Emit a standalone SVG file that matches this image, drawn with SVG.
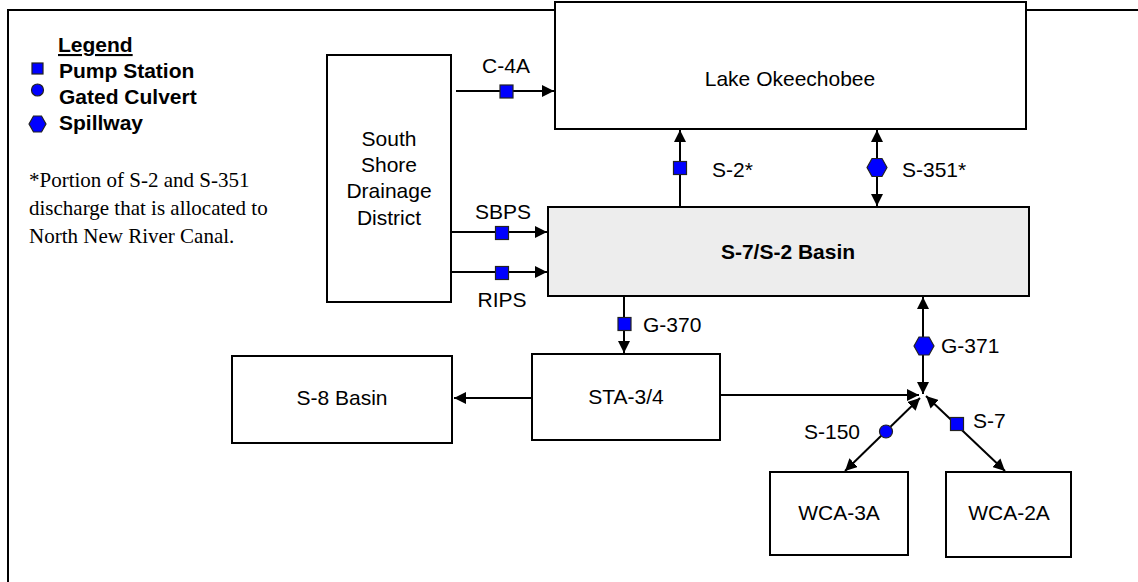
<svg xmlns="http://www.w3.org/2000/svg" width="1138" height="582" viewBox="0 0 1138 582">
<defs>
<marker id="ah" viewBox="0 0 12 12" refX="12" refY="6" markerWidth="12" markerHeight="12" markerUnits="userSpaceOnUse" orient="auto-start-reverse">
<path d="M0,0 L12,6 L0,12 z" fill="#000"/>
</marker>
<g id="pump"><rect x="-6.5" y="-6.5" width="13" height="13" fill="#0000ff" stroke="#222" stroke-width="1.2"/></g>
<g id="culv"><circle r="6.5" fill="#0000ff" stroke="#222" stroke-width="1.2"/></g>
<g id="spill"><polygon points="-10,0 -5,-9 5,-9 10,0 5,9 -5,9" fill="#0000ff" stroke="#222" stroke-width="1.2"/></g>
</defs>
<style>
.box{fill:#fff;stroke:#000;stroke-width:2}
.t{font-family:"Liberation Sans",Arial,sans-serif;font-size:21px;fill:#000}
.c{text-anchor:middle}
.b{font-weight:bold}
.ln{stroke:#000;stroke-width:2;fill:none}
.tm{font-family:"Liberation Serif","Times New Roman",serif;font-size:21px;fill:#000}
</style>
<rect width="1138" height="582" fill="#fff"/>
<path d="M8,582 V10 H1138" fill="none" stroke="#000" stroke-width="2"/>

<g id="legend">
<text class="t b" x="58" y="52" text-decoration="underline">Legend</text>
<rect x="32" y="63" width="11" height="11" fill="#0000ff" stroke="#222" stroke-width="1.2"/>
<text class="t b" x="59" y="78">Pump Station</text>
<circle cx="37.5" cy="90" r="6" fill="#0000ff" stroke="#222" stroke-width="1.2"/>
<text class="t b" x="59" y="104">Gated Culvert</text>
<polygon points="29,124 33.5,116 41.5,116 46,124 41.5,132 33.5,132" fill="#0000ff" stroke="#222" stroke-width="1.2"/>
<text class="t b" x="59" y="130">Spillway</text>
<text class="tm" x="29" y="187">*Portion of S-2 and S-351</text>
<text class="tm" x="29" y="215">discharge that is allocated to</text>
<text class="tm" x="29" y="243">North New River Canal.</text>
</g>

<g id="lake"><rect class="box" x="555" y="2" width="471" height="127"/><text class="t c" x="790" y="86">Lake Okeechobee</text></g>
<g id="ssdd"><rect class="box" x="327" y="55" width="124" height="247"/>
<text class="t c" x="389" y="146">South</text><text class="t c" x="389" y="172">Shore</text><text class="t c" x="389" y="198">Drainage</text><text class="t c" x="389" y="225">District</text></g>
<g id="basin"><rect x="548" y="207" width="481" height="89" fill="#ededed" stroke="#000" stroke-width="2"/><text class="t c b" x="788" y="259">S-7/S-2 Basin</text></g>
<g id="sta"><rect class="box" x="532" y="354" width="188" height="86"/><text class="t c" x="626" y="404">STA-3/4</text></g>
<g id="s8"><rect class="box" x="232" y="356" width="220" height="87"/><text class="t c" x="342" y="405">S-8 Basin</text></g>
<g id="wca3a"><rect class="box" x="770" y="472" width="138" height="83"/><text class="t c" x="839" y="520">WCA-3A</text></g>
<g id="wca2a"><rect class="box" x="946" y="472" width="125" height="85"/><text class="t c" x="1009" y="520">WCA-2A</text></g>

<g id="connectors">
<line class="ln" x1="456" y1="91" x2="554" y2="91" marker-end="url(#ah)"/>
<use href="#pump" x="506.5" y="91.5"/>
<text class="t c" x="506" y="73">C-4A</text>

<line class="ln" x1="451" y1="232" x2="547" y2="232" marker-end="url(#ah)"/>
<use href="#pump" x="502" y="233"/>
<text class="t c" x="503" y="219">SBPS</text>

<line class="ln" x1="451" y1="272" x2="547" y2="272" marker-end="url(#ah)"/>
<use href="#pump" x="502" y="273"/>
<text class="t c" x="502" y="307">RIPS</text>

<line class="ln" x1="680" y1="207" x2="680" y2="130" marker-end="url(#ah)"/>
<use href="#pump" x="680" y="168"/>
<text class="t" x="712" y="177">S-2*</text>

<line class="ln" x1="877" y1="206" x2="877" y2="130" marker-start="url(#ah)" marker-end="url(#ah)"/>
<use href="#spill" x="877" y="167.5"/>
<text class="t" x="902" y="177">S-351*</text>

<line class="ln" x1="624" y1="296" x2="624" y2="353" marker-end="url(#ah)"/>
<use href="#pump" x="624.5" y="324"/>
<text class="t" x="643" y="332">G-370</text>

<line class="ln" x1="532" y1="398" x2="454" y2="398" marker-end="url(#ah)"/>
<line class="ln" x1="720" y1="395" x2="919" y2="395" marker-end="url(#ah)"/>

<line class="ln" x1="923" y1="297" x2="923" y2="394" marker-start="url(#ah)" marker-end="url(#ah)"/>
<use href="#spill" x="924" y="346"/>
<text class="t" x="941" y="353">G-371</text>

<line class="ln" x1="920" y1="398" x2="845" y2="471" marker-start="url(#ah)" marker-end="url(#ah)"/>
<use href="#culv" x="886" y="431.5"/>
<text class="t" x="860" y="439" text-anchor="end">S-150</text>

<line class="ln" x1="926" y1="396" x2="1005" y2="471" marker-start="url(#ah)" marker-end="url(#ah)"/>
<use href="#pump" x="957" y="424"/>
<text class="t" x="973" y="428">S-7</text>
</g>
</svg>
